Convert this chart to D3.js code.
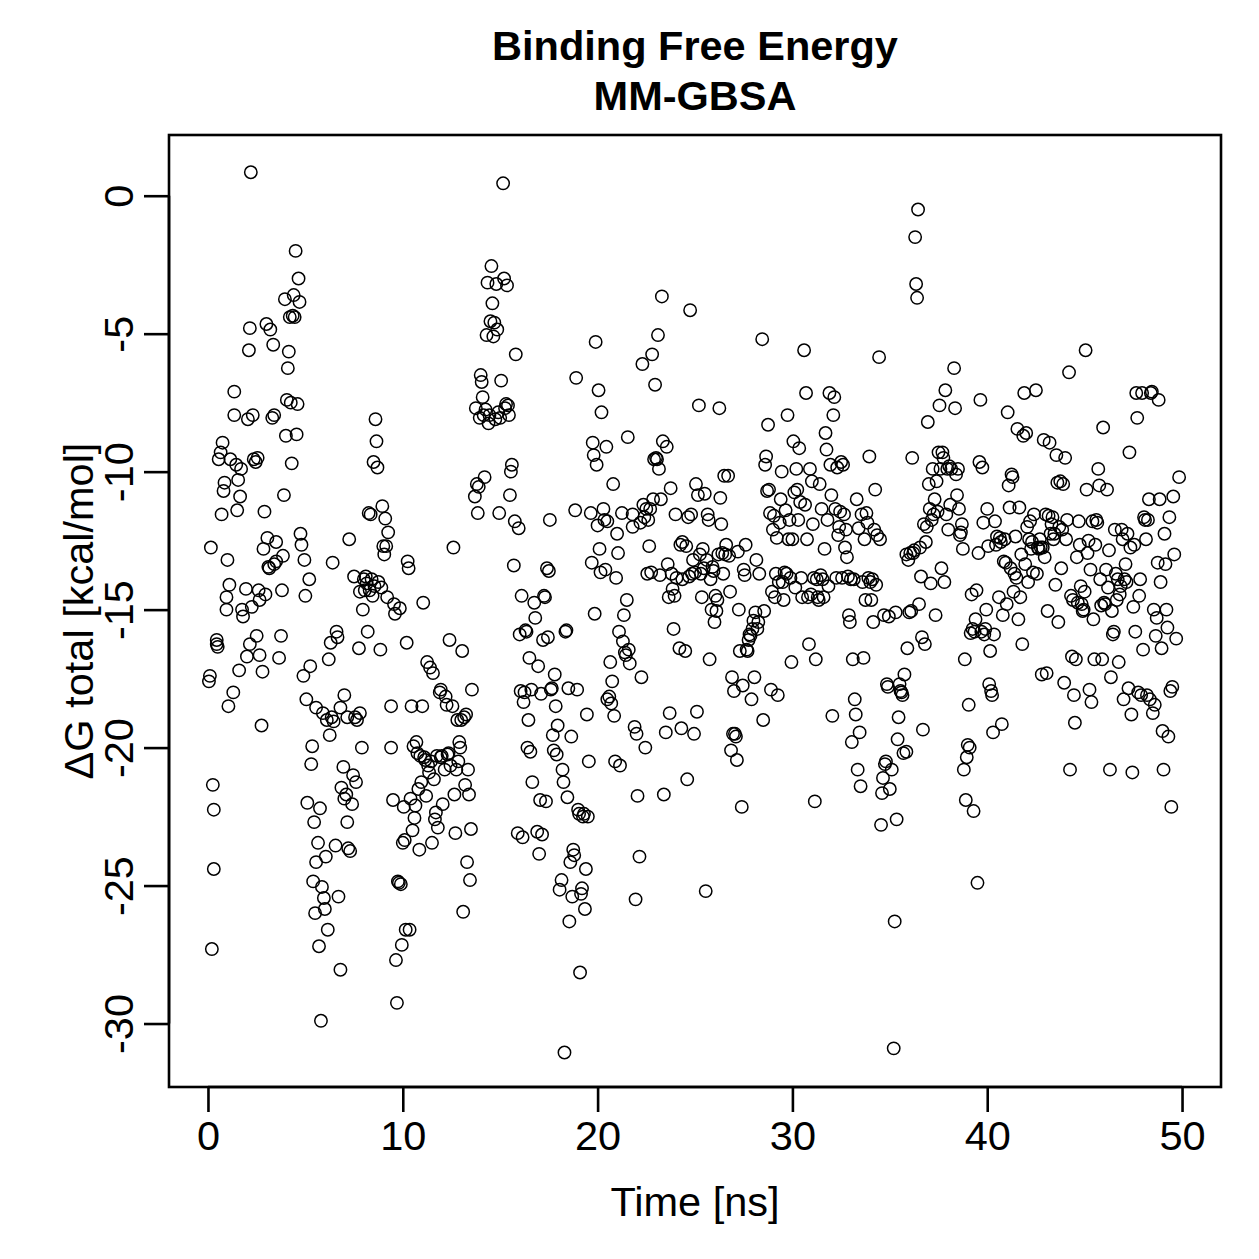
<!DOCTYPE html>
<html>
<head>
<meta charset="utf-8">
<script src="https://cdn.jsdelivr.net/npm/d3@7"></script>
<style>
  html, body { margin: 0; padding: 0; background: #fff; }
  svg text { font-family: "Liberation Sans", Arial, Helvetica, sans-serif; fill: #000; }
</style>
</head>
<body>
<svg id="chart" width="1259" height="1259"></svg>
<script>
// Binding free energy (MM-GBSA) per frame: [time in ns, dG total in kcal/mol]
const samples = [
  [0.05,-17.6],[0.1,-17.4],[0.15,-12.75],[0.2,-27.3],[0.25,-21.35],[0.3,-22.25],[0.3,-24.4],[0.45,-16.1],[0.45,-16.25],[0.5,-16.35],
  [0.55,-9.55],[0.65,-9.3],[0.7,-11.55],[0.75,-8.95],[0.8,-10.7],[0.85,-10.4],[0.95,-14.55],[0.95,-15.0],[1.0,-13.2],[1.05,-18.5],
  [1.1,-14.1],[1.15,-9.55],[1.3,-18.0],[1.35,-7.1],[1.35,-7.95],[1.45,-9.75],[1.5,-11.4],[1.55,-10.3],[1.6,-17.2],[1.65,-10.9],
  [1.7,-9.9],[1.75,-15.0],[1.8,-15.25],[1.95,-14.25],[2.0,-16.7],[2.05,-8.1],[2.1,-5.6],[2.15,-4.8],[2.15,-16.25],[2.2,0.85],
  [2.25,-14.9],[2.3,-7.95],[2.35,-9.55],[2.45,-9.65],[2.5,-15.95],[2.55,-9.5],[2.6,-14.3],[2.65,-14.65],[2.65,-16.65],[2.75,-19.2],
  [2.8,-17.25],[2.85,-12.8],[2.9,-11.45],[2.95,-14.45],[3.0,-4.65],[3.05,-12.4],[3.1,-13.45],[3.15,-13.5],[3.2,-4.85],[3.3,-8.05],
  [3.35,-5.4],[3.4,-13.35],[3.4,-7.95],[3.5,-13.25],[3.5,-12.55],[3.65,-16.75],[3.75,-15.95],[3.8,-14.3],[3.85,-13.05],[3.9,-10.85],
  [3.95,-3.75],[4.0,-8.7],[4.05,-7.4],[4.1,-6.25],[4.15,-5.65],[4.2,-4.4],[4.25,-7.5],[4.3,-9.7],[4.35,-4.35],[4.4,-3.6],
  [4.45,-4.4],[4.5,-2.0],[4.55,-8.65],[4.6,-7.55],[4.65,-3.0],[4.7,-3.85],[4.75,-12.25],[4.8,-12.65],[4.9,-17.4],[4.95,-13.2],
  [5.0,-14.5],[5.05,-18.25],[5.1,-22.0],[5.2,-13.9],[5.25,-17.05],[5.3,-20.6],[5.35,-19.95],[5.4,-24.85],[5.45,-22.7],[5.5,-26.0],
  [5.55,-24.15],[5.55,-18.55],[5.65,-23.45],[5.7,-27.2],[5.75,-22.2],[5.8,-29.9],[5.85,-25.05],[5.9,-18.75],[5.95,-25.45],[6.0,-25.85],
  [6.05,-23.95],[6.1,-19.0],[6.15,-26.6],[6.2,-16.8],[6.25,-19.55],[6.3,-16.2],[6.35,-18.9],[6.4,-13.3],[6.45,-19.05],[6.55,-23.55],
  [6.6,-15.8],[6.65,-16.0],[6.7,-25.4],[6.8,-18.55],[6.8,-28.05],[6.85,-21.45],[6.95,-20.7],[7.0,-21.85],[7.0,-18.1],[7.1,-21.7],
  [7.15,-22.7],[7.15,-18.9],[7.2,-23.65],[7.25,-12.45],[7.3,-23.75],[7.4,-22.05],[7.45,-21.0],[7.5,-13.8],[7.55,-18.9],[7.6,-21.25],
  [7.65,-19.0],[7.75,-16.4],[7.8,-18.75],[7.8,-14.35],[7.9,-20.0],[7.95,-15.0],[8.0,-13.9],[8.05,-14.3],[8.1,-13.8],[8.15,-14.05],
  [8.2,-15.8],[8.25,-11.5],[8.3,-14.3],[8.35,-11.55],[8.4,-13.9],[8.45,-14.5],[8.5,-9.65],[8.55,-14.15],[8.6,-8.1],[8.65,-8.9],
  [8.7,-9.85],[8.75,-14.0],[8.85,-16.45],[8.9,-14.2],[8.95,-11.25],[9.0,-12.7],[9.05,-13.0],[9.1,-11.7],[9.15,-12.7],[9.2,-14.55],
  [9.25,-12.2],[9.4,-18.5],[9.4,-20.0],[9.5,-21.9],[9.55,-14.8],[9.6,-15.15],[9.65,-27.7],[9.7,-29.25],[9.75,-24.85],[9.8,-24.9],
  [9.85,-14.95],[9.9,-24.95],[9.95,-27.15],[10.0,-23.45],[10.05,-22.15],[10.1,-23.35],[10.15,-26.6],[10.2,-16.2],[10.25,-13.25],[10.3,-13.5],
  [10.35,-26.6],[10.4,-21.85],[10.45,-18.5],[10.5,-23.0],[10.55,-19.95],[10.6,-22.55],[10.65,-22.1],[10.7,-19.8],[10.75,-20.2],[10.8,-21.5],
  [10.85,-23.7],[10.9,-20.3],[10.95,-21.25],[11.0,-18.5],[11.05,-14.75],[11.1,-20.35],[11.15,-20.45],[11.2,-21.75],[11.25,-16.9],[11.3,-20.65],
  [11.35,-20.9],[11.4,-17.1],[11.45,-20.5],[11.5,-23.45],[11.55,-17.3],[11.6,-21.15],[11.65,-22.6],[11.7,-22.35],[11.75,-20.3],[11.8,-22.9],
  [11.9,-18.0],[11.95,-20.35],[11.95,-17.9],[12.0,-20.3],[12.05,-22.05],[12.15,-20.8],[12.2,-18.15],[12.25,-18.45],[12.3,-20.25],[12.35,-20.2],
  [12.4,-16.1],[12.45,-20.65],[12.55,-18.5],[12.6,-12.75],[12.65,-21.7],[12.7,-23.1],[12.75,-20.8],[12.8,-19.0],[12.85,-20.5],[12.9,-19.8],
  [12.95,-20.0],[13.0,-19.0],[13.05,-16.5],[13.1,-25.95],[13.15,-18.9],[13.2,-21.35],[13.25,-18.8],[13.3,-24.15],[13.35,-20.8],[13.4,-21.7],
  [13.45,-24.8],[13.5,-22.95],[13.55,-17.9],[13.7,-10.9],[13.75,-7.7],[13.8,-10.45],[13.85,-11.5],[13.9,-10.55],[13.95,-8.05],[14.0,-6.5],
  [14.05,-6.75],[14.1,-7.3],[14.15,-7.95],[14.2,-10.2],[14.25,-7.75],[14.3,-5.05],[14.35,-3.15],[14.4,-8.25],[14.45,-7.95],[14.5,-4.55],
  [14.55,-2.55],[14.6,-3.9],[14.65,-5.1],[14.7,-4.6],[14.75,-8.1],[14.8,-3.2],[14.85,-4.85],[14.9,-7.85],[14.95,-11.5],[15.0,-8.05],
  [15.05,-6.7],[15.15,0.45],[15.2,-3.0],[15.25,-7.7],[15.3,-7.55],[15.35,-3.25],[15.4,-7.6],[15.45,-7.95],[15.5,-10.85],[15.55,-10.0],
  [15.6,-9.75],[15.7,-13.4],[15.75,-11.8],[15.8,-5.75],[15.9,-23.1],[15.95,-12.05],[16.0,-15.9],[16.05,-17.95],[16.1,-14.5],[16.15,-23.25],
  [16.2,-18.35],[16.25,-18.0],[16.3,-15.75],[16.35,-15.8],[16.4,-20.0],[16.45,-19.0],[16.5,-16.75],[16.55,-20.15],[16.6,-17.9],[16.65,-21.25],
  [16.75,-14.75],[16.8,-15.3],[16.9,-23.05],[16.95,-17.05],[17.0,-23.85],[17.05,-21.9],[17.1,-18.05],[17.15,-23.15],[17.2,-16.1],[17.25,-14.5],
  [17.3,-14.55],[17.35,-21.95],[17.4,-13.5],[17.45,-16.0],[17.5,-13.6],[17.55,-11.75],[17.6,-17.9],[17.65,-17.85],[17.7,-19.55],[17.75,-20.1],
  [17.8,-17.35],[17.85,-18.5],[17.9,-20.25],[17.95,-19.2],[18.05,-25.15],[18.15,-24.8],[18.2,-20.8],[18.25,-21.25],[18.3,-31.05],[18.35,-15.8],
  [18.4,-15.75],[18.45,-21.8],[18.5,-17.85],[18.55,-26.3],[18.6,-24.15],[18.65,-19.6],[18.7,-25.4],[18.75,-23.7],[18.8,-23.9],[18.85,-11.4],
  [18.9,-6.6],[18.95,-17.9],[19.0,-22.25],[19.05,-22.4],[19.1,-28.15],[19.15,-25.3],[19.2,-25.1],[19.25,-22.5],[19.3,-22.4],[19.35,-25.85],
  [19.4,-24.4],[19.45,-18.8],[19.5,-22.5],[19.55,-20.5],[19.65,-11.5],[19.7,-13.3],[19.75,-8.95],[19.8,-9.4],[19.85,-15.15],[19.9,-5.3],
  [19.95,-9.75],[20.0,-11.95],[20.05,-7.05],[20.1,-12.8],[20.15,-13.65],[20.2,-7.85],[20.3,-11.35],[20.35,-11.75],[20.4,-13.55],[20.45,-9.1],
  [20.5,-11.8],[20.5,-18.25],[20.6,-18.15],[20.65,-16.9],[20.7,-18.4],[20.75,-17.6],[20.8,-10.45],[20.85,-18.85],[20.9,-20.5],[20.95,-13.85],
  [21.0,-12.25],[21.05,-12.95],[21.1,-15.8],[21.15,-20.65],[21.25,-11.5],[21.3,-16.15],[21.35,-15.2],[21.4,-16.55],[21.45,-16.65],[21.5,-14.65],
  [21.55,-8.75],[21.6,-16.45],[21.65,-16.95],[21.8,-12.0],[21.8,-11.55],[21.9,-19.25],[21.95,-25.5],[22.0,-19.5],[22.05,-21.75],[22.15,-23.95],
  [22.2,-11.85],[22.25,-17.45],[22.3,-6.1],[22.35,-11.2],[22.4,-11.65],[22.45,-20.0],[22.5,-11.35],[22.55,-13.7],[22.6,-11.75],[22.65,-12.7],
  [22.7,-11.35],[22.75,-13.65],[22.8,-5.75],[22.85,-11.0],[22.9,-9.55],[22.95,-6.85],[23.0,-9.5],[23.05,-9.55],[23.1,-5.05],[23.15,-9.9],
  [23.2,-13.75],[23.25,-11.0],[23.3,-3.65],[23.35,-8.9],[23.4,-21.7],[23.5,-19.45],[23.55,-9.1],[23.6,-13.35],[23.65,-14.55],[23.7,-18.75],
  [23.75,-10.6],[23.8,-13.7],[23.85,-14.25],[23.9,-15.7],[23.95,-14.5],[24.0,-11.55],[24.05,-13.85],[24.2,-16.4],[24.25,-12.65],[24.3,-19.3],
  [24.35,-13.9],[24.35,-12.55],[24.5,-16.5],[24.55,-12.7],[24.6,-21.15],[24.65,-11.65],[24.7,-13.8],[24.75,-4.15],[24.8,-11.55],[24.85,-13.7],
  [24.9,-13.2],[24.95,-19.5],[25.0,-13.65],[25.05,-10.45],[25.1,-18.7],[25.15,-10.85],[25.2,-7.6],[25.25,-13.0],[25.3,-13.7],[25.35,-14.55],
  [25.4,-12.8],[25.45,-13.5],[25.5,-10.8],[25.55,-25.2],[25.6,-13.2],[25.65,-11.55],[25.7,-11.75],[25.75,-16.8],[25.8,-13.9],[25.85,-15.0],
  [25.9,-13.45],[25.95,-13.6],[26.0,-15.45],[26.05,-14.5],[26.1,-15.05],[26.15,-14.65],[26.2,-13.0],[26.25,-7.7],[26.3,-10.95],[26.35,-11.9],
  [26.4,-12.95],[26.45,-13.7],[26.5,-10.15],[26.55,-13.0],[26.6,-12.65],[26.7,-10.15],[26.75,-13.05],[26.8,-14.35],[26.85,-20.1],[26.9,-17.45],
  [26.95,-19.5],[27.0,-17.95],[27.05,-19.5],[27.1,-19.6],[27.15,-20.45],[27.2,-12.9],[27.25,-15.0],[27.3,-16.5],[27.4,-22.15],[27.45,-17.75],
  [27.5,-13.55],[27.55,-13.75],[27.6,-12.65],[27.65,-16.45],[27.7,-16.5],[27.75,-16.1],[27.8,-15.9],[27.85,-15.95],[27.9,-18.25],[27.95,-15.7],
  [28.0,-15.4],[28.05,-17.45],[28.1,-15.1],[28.15,-13.2],[28.2,-15.7],[28.25,-15.45],[28.3,-13.7],[28.45,-5.2],[28.5,-19.0],[28.55,-15.05],
  [28.6,-9.75],[28.65,-9.45],[28.7,-10.7],[28.75,-8.3],[28.8,-10.65],[28.85,-11.5],[28.9,-17.9],[28.95,-14.35],[29.0,-12.1],[29.05,-11.6],
  [29.1,-14.55],[29.15,-13.7],[29.2,-12.4],[29.25,-18.1],[29.3,-14.0],[29.35,-11.85],[29.4,-11.0],[29.45,-10.0],[29.5,-14.0],[29.55,-14.65],
  [29.6,-13.65],[29.65,-11.4],[29.7,-13.7],[29.75,-7.95],[29.8,-12.45],[29.85,-11.75],[29.9,-13.85],[29.95,-16.9],[30.0,-12.45],[30.05,-8.9],
  [30.1,-10.75],[30.15,-14.2],[30.2,-9.9],[30.25,-10.65],[30.3,-11.75],[30.35,-9.15],[30.4,-11.1],[30.45,-13.85],[30.5,-14.55],[30.6,-5.6],
  [30.65,-11.2],[30.7,-7.15],[30.75,-12.45],[30.8,-14.55],[30.85,-16.25],[30.9,-9.9],[30.95,-14.45],[31.0,-10.35],[31.05,-11.9],[31.1,-13.85],
  [31.15,-21.95],[31.2,-16.8],[31.25,-13.9],[31.3,-14.55],[31.35,-14.65],[31.4,-10.45],[31.45,-13.75],[31.5,-11.35],[31.55,-13.9],[31.6,-14.55],
  [31.65,-12.8],[31.7,-8.6],[31.75,-9.2],[31.8,-11.75],[31.85,-14.15],[31.9,-7.15],[31.95,-9.75],[32.0,-10.85],[32.05,-18.85],[32.1,-7.95],
  [32.15,-7.3],[32.2,-11.35],[32.25,-13.85],[32.3,-9.85],[32.35,-12.3],[32.4,-12.0],[32.45,-11.45],[32.5,-9.65],[32.55,-13.85],[32.6,-9.75],
  [32.65,-11.55],[32.7,-12.75],[32.75,-12.1],[32.8,-13.1],[32.85,-13.8],[32.9,-15.2],[32.95,-15.45],[33.0,-13.9],[33.05,-19.8],[33.1,-16.8],
  [33.15,-13.9],[33.2,-18.25],[33.25,-18.8],[33.3,-11.0],[33.35,-20.8],[33.4,-12.05],[33.45,-19.45],[33.5,-21.4],[33.55,-11.55],[33.6,-14.0],
  [33.65,-16.75],[33.7,-12.45],[33.75,-14.65],[33.8,-11.5],[33.85,-11.85],[33.9,-13.85],[33.95,-9.45],[34.0,-14.0],[34.05,-14.65],[34.1,-13.9],
  [34.15,-15.45],[34.2,-12.1],[34.25,-10.65],[34.3,-14.1],[34.35,-12.3],[34.45,-5.85],[34.5,-12.45],[34.55,-22.8],[34.6,-21.65],[34.65,-21.1],
  [34.7,-15.2],[34.75,-20.6],[34.8,-20.5],[34.85,-17.7],[34.9,-17.8],[34.95,-15.25],[35.0,-21.5],[35.1,-20.8],[35.2,-30.9],[35.25,-26.3],
  [35.3,-15.1],[35.35,-22.6],[35.4,-19.7],[35.45,-18.9],[35.5,-17.7],[35.55,-17.95],[35.6,-18.0],[35.65,-18.1],[35.7,-20.2],[35.75,-17.35],
  [35.85,-13.0],[35.85,-20.15],[35.9,-16.4],[35.95,-13.2],[36.0,-15.1],[36.05,-12.95],[36.1,-15.05],[36.15,-9.5],[36.2,-12.95],[36.25,-12.85],
  [36.3,-1.5],[36.35,-3.2],[36.4,-3.7],[36.45,-0.5],[36.5,-14.8],[36.55,-12.75],[36.6,-13.8],[36.65,-16.0],[36.7,-19.35],[36.75,-11.9],
  [36.8,-16.25],[36.85,-12.55],[36.9,-12.0],[36.95,-8.2],[37.0,-10.45],[37.05,-11.35],[37.1,-14.05],[37.15,-11.75],[37.2,-9.9],[37.25,-11.55],
  [37.3,-11.0],[37.35,-15.2],[37.4,-10.35],[37.45,-11.45],[37.5,-9.3],[37.55,-7.6],[37.6,-9.9],[37.65,-13.5],[37.7,-9.3],[37.75,-9.5],
  [37.8,-14.0],[37.85,-7.05],[37.9,-11.55],[37.95,-9.9],[38.0,-12.1],[38.05,-9.8],[38.1,-11.2],[38.15,-9.9],[38.3,-6.25],[38.35,-7.7],
  [38.4,-10.1],[38.45,-10.85],[38.5,-9.9],[38.55,-11.35],[38.6,-12.3],[38.65,-12.2],[38.7,-11.9],[38.75,-12.8],[38.8,-20.8],[38.85,-16.8],
  [38.9,-21.9],[38.95,-20.35],[39.0,-19.9],[39.05,-18.45],[39.1,-20.0],[39.15,-15.85],[39.2,-14.45],[39.25,-15.7],[39.3,-22.3],[39.35,-15.8],
  [39.4,-15.35],[39.45,-14.3],[39.5,-24.9],[39.55,-12.95],[39.6,-9.65],[39.65,-7.4],[39.7,-15.8],[39.75,-9.85],[39.8,-11.85],[39.85,-15.9],
  [39.9,-15.7],[39.95,-15.0],[40.0,-11.35],[40.05,-12.7],[40.1,-17.7],[40.15,-16.5],[40.2,-17.95],[40.25,-18.1],[40.3,-19.45],[40.35,-15.9],
  [40.4,-11.8],[40.45,-12.65],[40.5,-12.35],[40.6,-14.55],[40.65,-12.4],[40.7,-12.55],[40.75,-19.15],[40.8,-15.2],[40.85,-13.25],[40.9,-12.45],
  [40.95,-13.3],[41.0,-14.8],[41.05,-7.85],[41.1,-10.5],[41.15,-11.3],[41.2,-13.5],[41.25,-10.1],[41.3,-10.2],[41.35,-14.35],[41.4,-13.7],
  [41.45,-12.35],[41.5,-13.85],[41.55,-8.45],[41.6,-15.35],[41.65,-11.3],[41.7,-14.55],[41.75,-13.0],[41.8,-16.25],[41.85,-8.7],[41.9,-7.15],
  [41.95,-13.35],[42.0,-8.6],[42.05,-12.0],[42.1,-14.0],[42.15,-12.45],[42.2,-11.8],[42.25,-12.8],[42.3,-12.55],[42.35,-13.65],[42.4,-11.55],
  [42.5,-7.05],[42.55,-13.7],[42.6,-12.75],[42.65,-12.8],[42.7,-12.45],[42.75,-12.75],[42.8,-17.35],[42.85,-12.75],[42.9,-8.85],[42.95,-13.1],
  [43.0,-11.55],[43.05,-17.3],[43.1,-15.05],[43.15,-11.6],[43.2,-8.95],[43.25,-12.25],[43.3,-11.9],[43.35,-11.65],[43.4,-12.45],[43.45,-12.25],
  [43.5,-14.1],[43.55,-9.4],[43.6,-10.4],[43.65,-15.45],[43.7,-12.0],[43.75,-10.35],[43.8,-13.5],[43.85,-12.1],[43.9,-10.45],[43.95,-17.65],
  [44.0,-9.5],[44.05,-12.45],[44.1,-11.75],[44.2,-6.4],[44.25,-20.8],[44.3,-14.5],[44.35,-16.7],[44.4,-14.65],[44.45,-18.1],[44.5,-19.1],
  [44.55,-16.8],[44.6,-13.1],[44.65,-14.75],[44.7,-11.8],[44.75,-12.65],[44.8,-14.15],[44.85,-14.8],[44.9,-15.05],[44.95,-15.0],[45.0,-14.35],
  [45.05,-5.6],[45.1,-10.65],[45.15,-12.95],[45.2,-12.5],[45.25,-17.9],[45.3,-13.55],[45.35,-18.35],[45.4,-11.8],[45.45,-15.35],[45.5,-16.8],
  [45.55,-12.65],[45.6,-11.75],[45.65,-11.85],[45.7,-9.9],[45.75,-10.5],[45.8,-13.9],[45.85,-14.85],[45.9,-16.8],[45.95,-8.4],[46.0,-14.75],
  [46.05,-14.8],[46.1,-13.55],[46.15,-10.65],[46.2,-14.2],[46.25,-12.85],[46.3,-20.8],[46.35,-17.45],[46.4,-15.05],[46.45,-15.9],[46.5,-15.8],
  [46.55,-12.1],[46.6,-13.7],[46.65,-14.65],[46.7,-13.9],[46.75,-16.9],[46.8,-14.45],[46.85,-14.15],[46.9,-12.1],[46.95,-12.45],[47.0,-18.25],
  [47.05,-13.9],[47.1,-13.35],[47.15,-14.0],[47.2,-12.25],[47.25,-17.85],[47.3,-9.3],[47.35,-12.75],[47.4,-18.8],[47.45,-20.9],[47.5,-14.9],
  [47.55,-12.65],[47.6,-15.8],[47.65,-7.15],[47.7,-8.05],[47.75,-18.0],[47.8,-14.5],[47.85,-13.9],[47.9,-18.1],[47.95,-7.15],[48.0,-16.45],
  [48.05,-11.65],[48.1,-11.75],[48.15,-12.45],[48.2,-18.1],[48.25,-11.75],[48.3,-11.0],[48.35,-18.25],[48.4,-7.15],[48.45,-7.1],[48.5,-18.75],
  [48.55,-15.0],[48.6,-18.45],[48.65,-15.95],[48.7,-15.3],[48.75,-13.3],[48.8,-7.4],[48.85,-11.0],[48.9,-14.0],[48.95,-16.4],[49.0,-19.4],
  [49.05,-20.8],[49.1,-12.25],[49.15,-13.35],[49.2,-15.0],[49.25,-15.65],[49.3,-19.6],[49.35,-11.65],[49.4,-17.95],[49.45,-22.15],[49.5,-17.8],
  [49.55,-10.9],[49.6,-13.0],[49.7,-16.05],[49.85,-10.2]
];

const xTicks = [0, 10, 20, 30, 40, 50];
const yTicks = [0, -5, -10, -15, -20, -25, -30];
const titleLines = ['Binding Free Energy', 'MM-GBSA'];
const xLabel = 'Time [ns]';
const yLabel = '\u0394G total [kcal/mol]';

const svg = d3.select('#chart');
const font = 41.5;
const lwd = 2.6; // R lwd=1 at 250 dpi
const plain = (d) => String(d); // R prints a plain hyphen, not U+2212

// plot region (same as R's usr limits with 4% padding)
const x = d3.scaleLinear().domain([-2, 52]).range([169, 1221]);
const y = d3.scaleLinear().domain([-32.3, 2.2]).range([1087, 135]);

// points
svg.append('g')
  .attr('class', 'points')
  .selectAll('circle')
  .data(samples)
  .join('circle')
  .attr('cx', (d) => x(d[0]))
  .attr('cy', (d) => y(d[1]))
  .attr('r', 6.2)
  .attr('fill', 'none')
  .attr('stroke', '#000')
  .attr('stroke-width', 1.5);

// x axis
const xAxis = svg.append('g')
  .attr('transform', `translate(0, ${y.range()[0]})`)
  .call(d3.axisBottom(x).tickValues(xTicks).tickFormat(plain).tickSize(25).tickSizeOuter(0));
xAxis.select('.domain')
  .attr('d', `M${x(xTicks[0])},0H${x(xTicks[xTicks.length - 1])}`)
  .attr('stroke-width', lwd);
xAxis.selectAll('.tick line').attr('stroke-width', lwd);
xAxis.selectAll('.tick text')
  .attr('y', 63)
  .attr('dy', 0)
  .attr('font-size', font)
  .attr('font-family', null);

// y axis, labels rotated like R's las=0
const yAxis = svg.append('g')
  .attr('transform', `translate(${x.range()[0]}, 0)`)
  .call(d3.axisLeft(y).tickValues(yTicks).tickFormat(plain).tickSize(25).tickSizeOuter(0));
yAxis.select('.domain')
  .attr('d', `M0,${y(yTicks[0])}V${y(yTicks[yTicks.length - 1])}`)
  .attr('stroke-width', lwd);
yAxis.selectAll('.tick line').attr('stroke-width', lwd);
yAxis.selectAll('.tick text')
  .attr('x', 0)
  .attr('dy', 0)
  .attr('text-anchor', 'middle')
  .attr('transform', 'translate(-36, 0) rotate(-90)')
  .attr('font-size', font)
  .attr('font-family', null);

// box around plot region
svg.append('rect')
  .attr('x', x.range()[0])
  .attr('y', y.range()[1])
  .attr('width', x.range()[1] - x.range()[0])
  .attr('height', y.range()[0] - y.range()[1])
  .attr('fill', 'none')
  .attr('stroke', '#000')
  .attr('stroke-width', lwd);

const cx = (x.range()[0] + x.range()[1]) / 2;
const cy = (y.range()[0] + y.range()[1]) / 2;

// title
svg.selectAll('text.title')
  .data(titleLines)
  .join('text')
  .attr('class', 'title')
  .attr('x', cx)
  .attr('y', (d, i) => 60 + i * 50)
  .attr('text-anchor', 'middle')
  .attr('font-size', font)
  .attr('font-weight', 700)
  .text((d) => d);

// axis titles
svg.append('text')
  .attr('x', cx)
  .attr('y', 1216)
  .attr('text-anchor', 'middle')
  .attr('font-size', font)
  .text(xLabel);

svg.append('text')
  .attr('transform', `translate(93, ${cy}) rotate(-90)`)
  .attr('text-anchor', 'middle')
  .attr('font-size', font)
  .text(yLabel);
</script>
</body>
</html>
